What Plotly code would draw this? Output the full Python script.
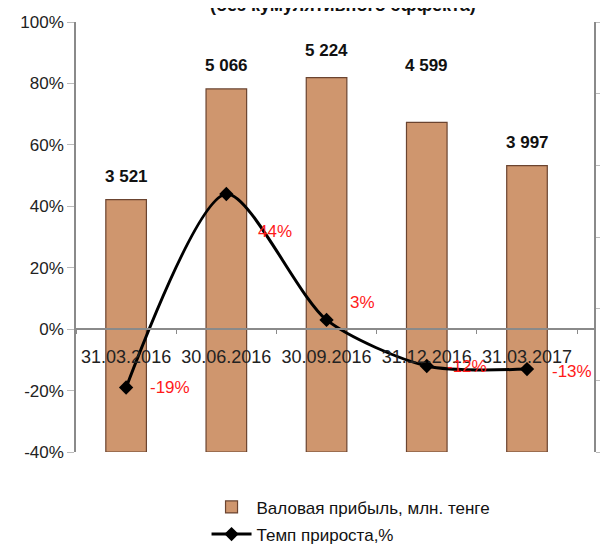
import plotly.graph_objects as go

categories = ["31.03.2016", "30.06.2016", "30.09.2016", "31.12.2016", "31.03.2017"]
gross_profit = [3521, 5066, 5224, 4599, 3997]
growth_pct = [-19, 44, 3, -12, -13]
left_ticks = [-40, -20, 0, 20, 40, 60, 80, 100]

# style-only offsets (pixels) for the labels
bar_label_lift = [23, 23, 27, 57, 23]
pct_label_dx = [22, 30, 21, 18, 23]
pct_label_dy = [0, -37, 17, 0, -2]

FONT = "Liberation Sans"

fig = go.Figure()

fig.add_trace(go.Bar(
    x=categories, y=gross_profit, yaxis="y", xaxis="x",
    name="Валовая прибыль, млн. тенге", legendgroup="a",
    width=0.405,
    marker=dict(color="#CF966E", line=dict(color="#6B4430", width=1.2)),
    hoverinfo="x+y",
))

fig.add_trace(go.Scatter(
    x=categories, y=growth_pct, yaxis="y2", xaxis="x",
    name="Темп прироста,%", legendgroup="b",
    mode="lines+markers",
    line=dict(color="#000000", width=3, shape="spline", smoothing=0.75),
    marker=dict(symbol="diamond", size=11, color="#000000"),
))

annotations = []
for c, v, lift in zip(categories, gross_profit, bar_label_lift):
    annotations.append(dict(
        x=c, y=v, xref="x", yref="y", text=f"{v:,}".replace(",", " "),
        showarrow=False, yanchor="middle", yshift=lift,
        font=dict(family=FONT, size=17, color="#111111", weight="bold"),
    ))
for c, v, dx, dy in zip(categories, growth_pct, pct_label_dx, pct_label_dy):
    annotations.append(dict(
        x=c, y=v, xref="x", yref="y2", text=f"{v}%",
        showarrow=False, xanchor="left", yanchor="middle",
        xshift=dx, yshift=dy,
        font=dict(family=FONT, size=17, color="#FF1A1A"),
    ))
annotations.append(dict(
    x=0.515, y=1.04, xref="paper", yref="paper",
    text="<b>(без кумулятивного эффекта)</b>", showarrow=False,
    xanchor="center", yanchor="middle",
    font=dict(family=FONT, size=18, color="#111111"),
))

zero_pos = (0 - left_ticks[0]) / (left_ticks[-1] - left_ticks[0])

fig.update_layout(
    width=600, height=537,
    margin=dict(l=68, r=14, t=14, b=93, autoexpand=False),
    paper_bgcolor="white", plot_bgcolor="white",
    font=dict(family=FONT, color="#222222"),
    showlegend=True,
    legend=dict(
        x=0.252, y=-0.087, xanchor="left", yanchor="top",
        orientation="v", font=dict(family=FONT, size=17, color="#111111"),
        tracegroupgap=2, itemwidth=40, bgcolor="rgba(0,0,0,0)",
    ),
    bargap=0.5,
    xaxis=dict(
        anchor="free", position=zero_pos, automargin=False,
        showline=True, linecolor="#8A8A8A", linewidth=1.5,
        ticks="outside", ticklen=4, tickcolor="#8A8A8A", tickson="boundaries",
        tickangle=0,
        tickfont=dict(family=FONT, size=18, color="#222222"),
        ticklabelstandoff=12,
        showgrid=False, zeroline=False, fixedrange=True,
    ),
    yaxis=dict(
        side="right", range=[0, 6000], dtick=1000, automargin=False,
        showticklabels=False, showline=True, linecolor="#8A8A8A", linewidth=1.5,
        ticks="outside", ticklen=4, tickcolor="#BBBBBB",
        showgrid=False, zeroline=False,
    ),
    yaxis2=dict(
        overlaying="y", side="left", automargin=False,
        range=[left_ticks[0], left_ticks[-1]],
        tickvals=left_ticks, ticktext=[f"{t}%" for t in left_ticks],
        showline=True, linecolor="#8A8A8A", linewidth=1.5,
        ticks="outside", ticklen=7, tickcolor="#BBBBBB",
        tickfont=dict(family=FONT, size=17, color="#222222"),
        showgrid=False, zeroline=False,
    ),
    annotations=annotations,
)

fig.write_html("out.html")
